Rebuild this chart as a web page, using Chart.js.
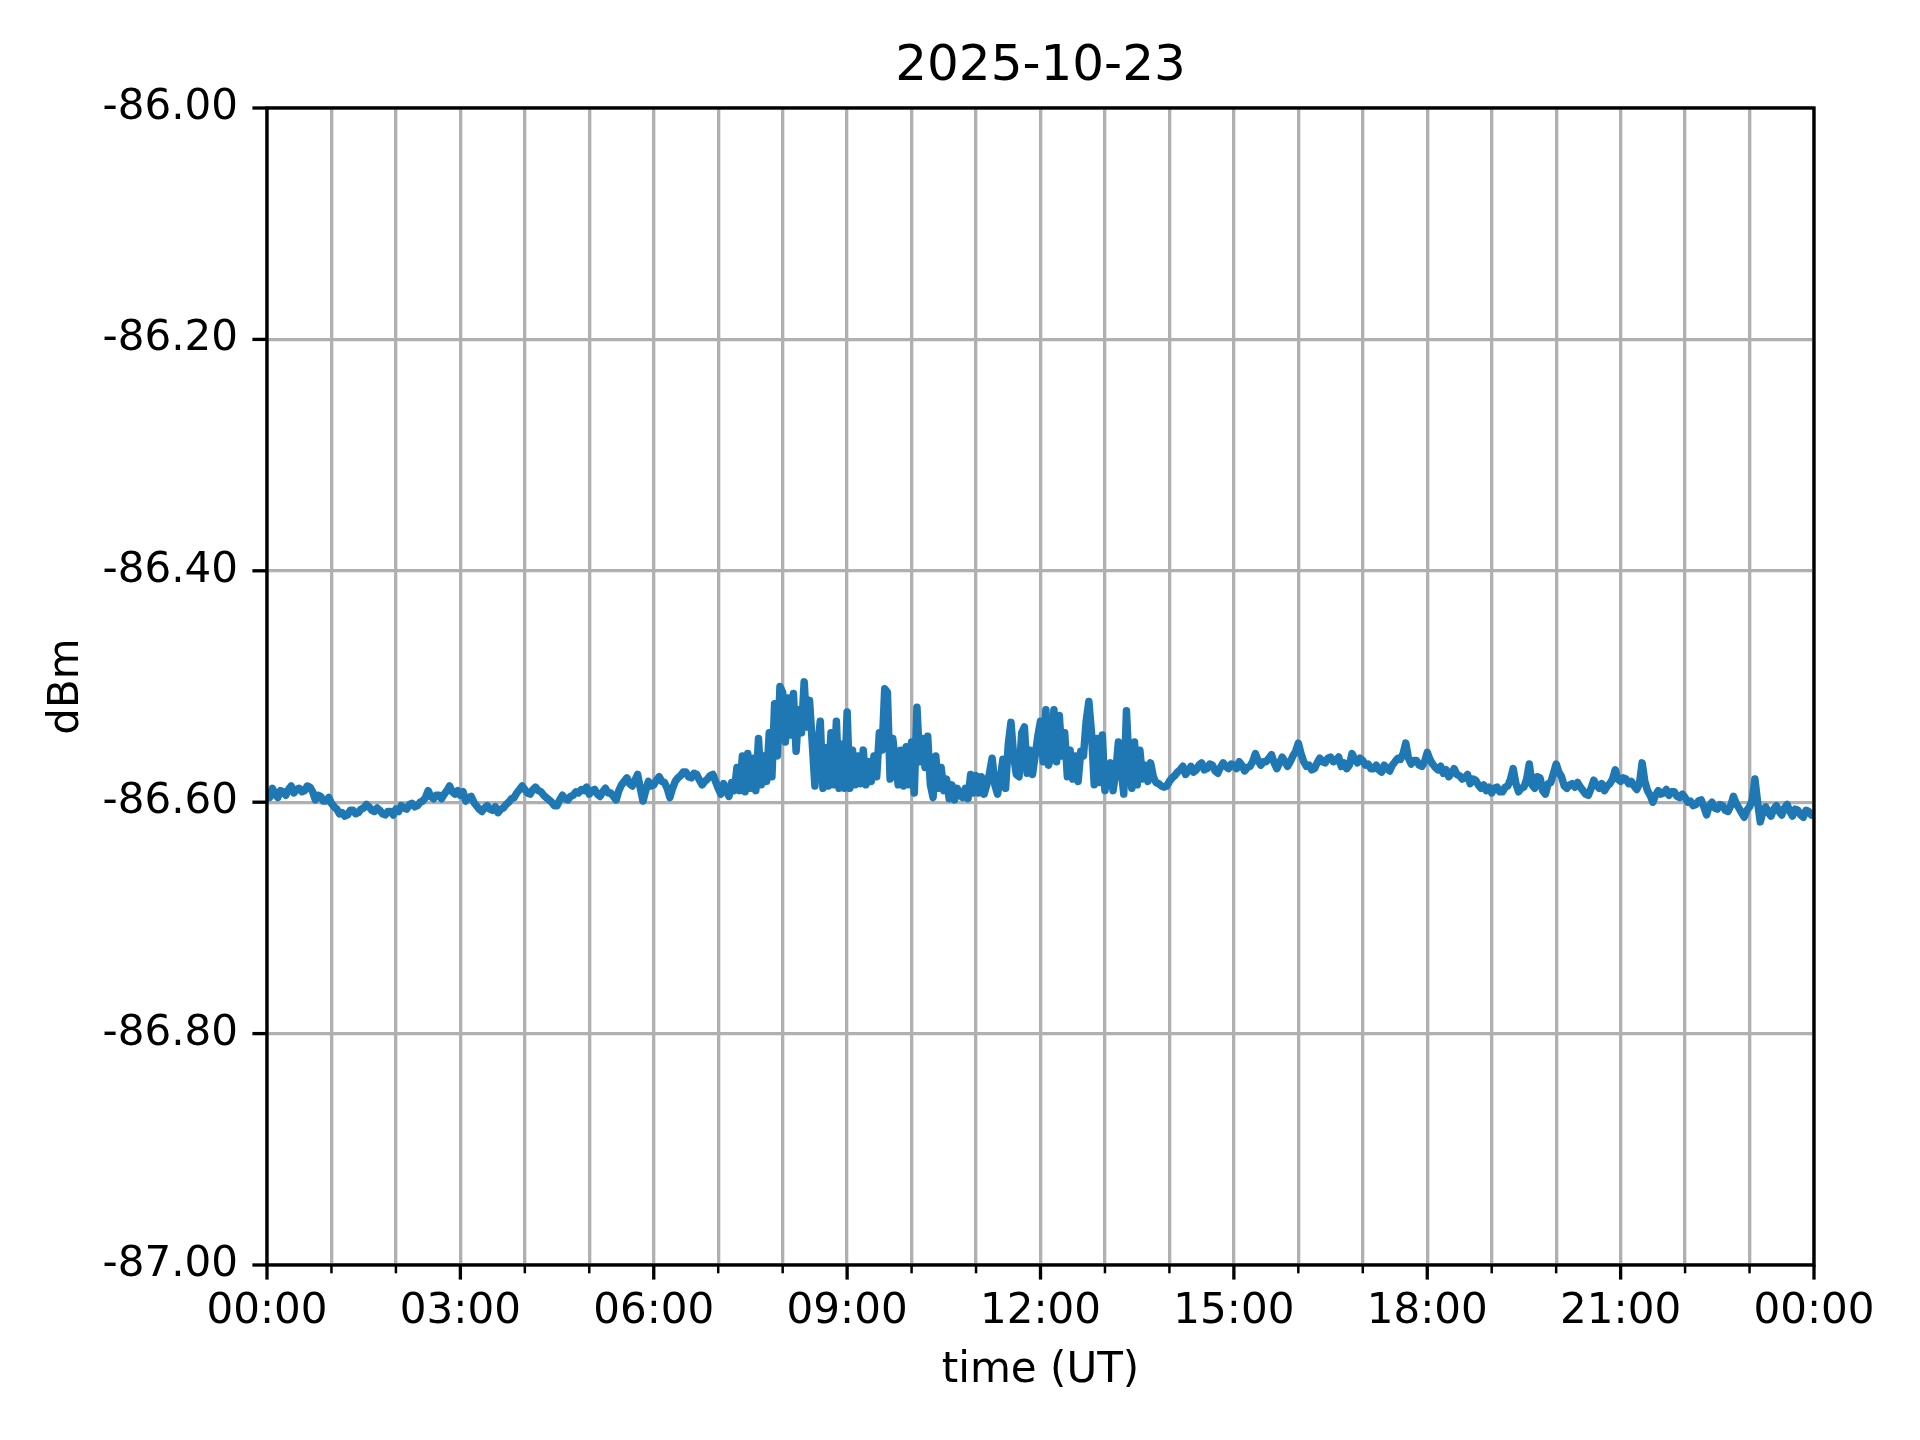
<!DOCTYPE html>
<html>
<head>
<meta charset="utf-8">
<script src="https://cdn.jsdelivr.net/npm/chart.js@4.4.0/dist/chart.umd.min.js"></script>
<style>
  body { margin: 0; background: #fff; }
  canvas { display: block; }
</style>
</head>
<body>
<canvas id="grafico" width="1920" height="1440"></canvas>
<script>
const titulo = "2025-10-23";
const timeLabels = ["00:00", "03:00", "06:00", "09:00", "12:00", "15:00", "18:00", "21:00", "00:00"];
const yTicks = [-87, -86.8, -86.6, -86.4, -86.2, -86];
const stepMin = 2.5; // una muestra cada 2,5 minutos

// dBm, 24 muestras por hora
const dbm = [
  -86.592, -86.596, -86.588, -86.593, -86.596, -86.590, -86.591, -86.594, -86.589, -86.586, -86.592, -86.589,
  -86.588, -86.591, -86.590, -86.586, -86.587, -86.591, -86.598, -86.594, -86.595, -86.599, -86.599, -86.596, // 00h
  -86.601, -86.604, -86.606, -86.610, -86.609, -86.612, -86.611, -86.607, -86.607, -86.610, -86.609, -86.606,
  -86.605, -86.602, -86.604, -86.607, -86.608, -86.605, -86.607, -86.610, -86.611, -86.608, -86.608, -86.611, // 01h
  -86.606, -86.608, -86.603, -86.605, -86.606, -86.602, -86.601, -86.604, -86.603, -86.600, -86.599, -86.596,
  -86.590, -86.595, -86.597, -86.594, -86.594, -86.597, -86.593, -86.590, -86.586, -86.591, -86.593, -86.590, // 02h
  -86.594, -86.591, -86.599, -86.596, -86.595, -86.600, -86.603, -86.606, -86.608, -86.605, -86.603, -86.606,
  -86.607, -86.604, -86.609, -86.606, -86.605, -86.602, -86.600, -86.597, -86.596, -86.592, -86.589, -86.586, // 03h
  -86.589, -86.592, -86.593, -86.589, -86.587, -86.590, -86.591, -86.594, -86.596, -86.598, -86.600, -86.603,
  -86.603, -86.598, -86.594, -86.597, -86.598, -86.595, -86.594, -86.591, -86.592, -86.589, -86.590, -86.587, // 04h
  -86.593, -86.590, -86.589, -86.593, -86.595, -86.591, -86.588, -86.592, -86.592, -86.595, -86.598, -86.590,
  -86.585, -86.582, -86.579, -86.584, -86.586, -86.581, -86.576, -86.588, -86.599, -86.590, -86.582, -86.586, // 05h
  -86.585, -86.581, -86.578, -86.582, -86.583, -86.588, -86.596, -86.588, -86.582, -86.579, -86.577, -86.574,
  -86.574, -86.578, -86.579, -86.575, -86.576, -86.581, -86.585, -86.582, -86.580, -86.577, -86.576, -86.582, // 06h
  -86.588, -86.593, -86.584, -86.590, -86.595, -86.583, -86.590, -86.570, -86.590, -86.560, -86.591, -86.558,
  -86.588, -86.562, -86.590, -86.545, -86.585, -86.560, -86.582, -86.540, -86.578, -86.515, -86.560, -86.500, // 07h
  -86.505, -86.548, -86.510, -86.542, -86.506, -86.556, -86.520, -86.540, -86.496, -86.535, -86.512, -86.548,
  -86.586, -86.555, -86.530, -86.588, -86.553, -86.586, -86.540, -86.585, -86.530, -86.588, -86.550, -86.588, // 08h
  -86.522, -86.588, -86.555, -86.585, -86.560, -86.584, -86.555, -86.585, -86.565, -86.582, -86.560, -86.578,
  -86.540, -86.555, -86.502, -86.505, -86.580, -86.545, -86.565, -86.585, -86.555, -86.586, -86.552, -86.585, // 09h
  -86.548, -86.592, -86.518, -86.565, -86.545, -86.570, -86.543, -86.585, -86.596, -86.560, -86.588, -86.570,
  -86.590, -86.580, -86.597, -86.585, -86.598, -86.588, -86.594, -86.596, -86.588, -86.597, -86.576, -86.592, // 10h
  -86.577, -86.592, -86.578, -86.593, -86.585, -86.575, -86.562, -86.585, -86.593, -86.580, -86.563, -86.588,
  -86.550, -86.531, -86.560, -86.576, -86.578, -86.540, -86.535, -86.575, -86.555, -86.576, -86.560, -86.543, // 11h
  -86.530, -86.565, -86.520, -86.568, -86.560, -86.520, -86.565, -86.525, -86.560, -86.540, -86.578, -86.555,
  -86.580, -86.560, -86.582, -86.556, -86.560, -86.530, -86.513, -86.540, -86.585, -86.545, -86.583, -86.542, // 12h
  -86.590, -86.570, -86.566, -86.590, -86.575, -86.548, -86.570, -86.593, -86.521, -86.570, -86.588, -86.548,
  -86.585, -86.555, -86.580, -86.568, -86.582, -86.566, -86.578, -86.583, -86.584, -86.586, -86.587, -86.586, // 13h
  -86.582, -86.579, -86.577, -86.574, -86.572, -86.569, -86.576, -86.573, -86.569, -86.574, -86.572, -86.568,
  -86.566, -86.572, -86.571, -86.567, -86.568, -86.573, -86.575, -86.570, -86.566, -86.569, -86.571, -86.567, // 14h
  -86.568, -86.571, -86.565, -86.568, -86.573, -86.570, -86.569, -86.565, -86.558, -86.564, -86.568, -86.565,
  -86.565, -86.562, -86.559, -86.566, -86.571, -86.566, -86.561, -86.565, -86.569, -86.565, -86.560, -86.556, // 15h
  -86.549, -86.558, -86.565, -86.569, -86.568, -86.572, -86.571, -86.566, -86.562, -86.565, -86.566, -86.562,
  -86.561, -86.565, -86.564, -86.561, -86.569, -86.566, -86.571, -86.568, -86.558, -86.563, -86.566, -86.562, // 16h
  -86.564, -86.568, -86.567, -86.571, -86.571, -86.568, -86.572, -86.574, -86.568, -86.571, -86.573, -86.568,
  -86.565, -86.562, -86.563, -86.558, -86.549, -86.562, -86.567, -86.564, -86.564, -86.568, -86.569, -86.565, // 17h
  -86.557, -86.563, -86.567, -86.570, -86.572, -86.569, -86.575, -86.572, -86.578, -86.575, -86.571, -86.576,
  -86.577, -86.580, -86.579, -86.576, -86.584, -86.580, -86.581, -86.585, -86.588, -86.585, -86.590, -86.587, // 18h
  -86.592, -86.588, -86.587, -86.591, -86.591, -86.587, -86.586, -86.580, -86.571, -86.584, -86.591, -86.588,
  -86.587, -86.580, -86.567, -86.585, -86.588, -86.578, -86.579, -86.590, -86.593, -86.584, -86.583, -86.575, // 19h
  -86.567, -86.574, -86.578, -86.586, -86.588, -86.585, -86.584, -86.587, -86.583, -86.587, -86.590, -86.593,
  -86.594, -86.588, -86.581, -86.585, -86.588, -86.584, -86.590, -86.586, -86.584, -86.580, -86.572, -86.580, // 20h
  -86.582, -86.579, -86.580, -86.584, -86.582, -86.586, -86.589, -86.584, -86.566, -86.582, -86.590, -86.594,
  -86.600, -86.594, -86.590, -86.593, -86.592, -86.589, -86.594, -86.591, -86.591, -86.595, -86.596, -86.593, // 21h
  -86.596, -86.600, -86.599, -86.603, -86.602, -86.599, -86.598, -86.604, -86.611, -86.603, -86.600, -86.605,
  -86.606, -86.602, -86.603, -86.607, -86.608, -86.603, -86.595, -86.601, -86.605, -86.609, -86.613, -86.607, // 22h
  -86.604, -86.598, -86.580, -86.600, -86.617, -86.608, -86.604, -86.609, -86.612, -86.606, -86.603, -86.608,
  -86.611, -86.605, -86.602, -86.608, -86.612, -86.606, -86.607, -86.611, -86.613, -86.607, -86.608, -86.611, // 23h
  -86.609
];

const hourTicks = [];
for (let m = 0; m <= 1440; m += 60) hourTicks.push(m);

const puntos = dbm.map((v, i) => ({ x: i * stepMin, y: v }));

Chart.defaults.font.family = "DejaVu Sans";
Chart.defaults.font.size = 42;
Chart.defaults.color = "#000";

// marco negro y marcas de los ejes como en matplotlib
const marcoPlugin = {
  id: "marco",
  afterDraw(chart) {
    const { ctx, chartArea: a, scales: { x, y } } = chart;
    ctx.save();
    ctx.strokeStyle = "#000";
    hourTicks.forEach((m) => {
      const px = x.getPixelForValue(m);
      const mayor = m % 180 === 0;
      ctx.lineWidth = mayor ? 3.33 : 2.5;
      ctx.beginPath();
      ctx.moveTo(px, a.bottom);
      ctx.lineTo(px, a.bottom + (mayor ? 14.6 : 8.3));
      ctx.stroke();
    });
    ctx.lineWidth = 3.33;
    yTicks.forEach((v) => {
      const py = y.getPixelForValue(v);
      ctx.beginPath();
      ctx.moveTo(a.left, py);
      ctx.lineTo(a.left - 14.6, py);
      ctx.stroke();
    });
    ctx.strokeRect(a.left, a.top, a.right - a.left, a.bottom - a.top);
    ctx.restore();
  }
};

new Chart(document.getElementById("grafico"), {
  type: "line",
  data: {
    datasets: [{
      data: puntos,
      borderColor: "#1f77b4",
      borderWidth: 7.5,
      borderJoinStyle: "round",
      pointRadius: 0,
      tension: 0,
      fill: false
    }]
  },
  options: {
    responsive: false,
    animation: false,
    devicePixelRatio: 1,
    layout: { padding: { left: 0, right: 106, top: 0, bottom: 0 } },
    plugins: {
      legend: { display: false },
      tooltip: { enabled: false },
      title: {
        display: true,
        text: titulo,
        fullSize: false,
        font: { size: 50, weight: "normal" },
        padding: { top: 37, bottom: 11 }
      }
    },
    scales: {
      x: {
        type: "linear",
        min: 0,
        max: 1440,
        afterBuildTicks: (s) => { s.ticks = hourTicks.map((v) => ({ value: v })); },
        afterFit: (s) => { s.height = 175; },
        ticks: {
          autoSkip: false,
          maxRotation: 0,
          padding: 22,
          callback: (v) => (v % 180 === 0 ? timeLabels[v / 180] : "")
        },
        grid: { color: "#b0b0b0", lineWidth: 3.33, drawTicks: false },
        border: { display: false },
        title: { display: true, text: "time (UT)", font: { size: 42 }, padding: { top: 0, bottom: 44 } }
      },
      y: {
        min: -87,
        max: -86,
        afterBuildTicks: (s) => { s.ticks = yTicks.map((v) => ({ value: v })); },
        afterFit: (s) => { s.width = 267; },
        ticks: {
          padding: 29,
          callback: (v) => v.toFixed(2)
        },
        grid: { color: "#b0b0b0", lineWidth: 3.33, drawTicks: false },
        border: { display: false },
        title: { display: true, text: "dBm", font: { size: 42 }, padding: { top: 42, bottom: 0 } }
      }
    }
  },
  plugins: [marcoPlugin]
});
</script>
</body>
</html>
